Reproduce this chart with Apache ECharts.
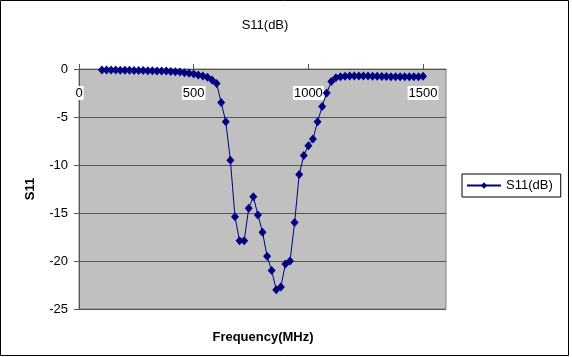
<!DOCTYPE html>
<html>
<head>
<meta charset="utf-8">
<script src="https://cdn.jsdelivr.net/npm/echarts@6/dist/echarts.min.js"></script>
<style>
  html, body { margin: 0; padding: 0; background: #fff; }
  #main { width: 572px; height: 357px; }
</style>
</head>
<body>
<div id="main"></div>
<script>
// frequency points (MHz)
const freqs = [
  100, 120, 140, 160, 180, 200, 220, 240, 260, 280,
  300, 320, 340, 360, 380, 400, 420, 440, 460, 480,
  500, 520, 540, 560, 580, 600, 620, 640, 660, 680,
  700, 720, 740, 760, 780, 800, 820, 840, 860, 880,
  900, 920, 940, 960, 980, 1000, 1020, 1040, 1060, 1080,
  1100, 1120, 1140, 1160, 1180, 1200, 1220, 1240, 1260, 1280,
  1300, 1320, 1340, 1360, 1380, 1400, 1420, 1440, 1460, 1480,
  1500
];
// S11 in dB
const s11 = [
  -0.1, -0.1, -0.1, -0.1, -0.12, -0.12, -0.13, -0.15, -0.15, -0.15,
  -0.17, -0.18, -0.2, -0.2, -0.22, -0.25, -0.28, -0.32, -0.38, -0.45,
  -0.52, -0.62, -0.72, -0.87, -1.15, -1.5, -3.5, -5.5, -9.5, -15.4,
  -17.9, -17.9, -14.5, -13.3, -15.2, -17.0, -19.5, -21.0, -23.0, -22.7,
  -20.3, -20.0, -16.0, -11.0, -9.0, -8.0, -7.3, -5.5, -3.9, -2.5,
  -1.3, -0.9, -0.8, -0.75, -0.72, -0.72, -0.72, -0.72, -0.74, -0.75,
  -0.75, -0.77, -0.78, -0.8, -0.8, -0.82, -0.82, -0.82, -0.8, -0.8,
  -0.75
];
const xTicks = [0, 500, 1000, 1500];

const chart = echarts.init(document.getElementById('main'));

const option = {
  backgroundColor: '#fff',
  animation: false,
  textStyle: { fontFamily: 'Liberation Sans, Arial, sans-serif', color: '#000' },
  title: {
    text: 'S11(dB)',
    left: 260,
    top: 14,
    textAlign: 'center',
    textStyle: { fontSize: 13, fontWeight: 'normal', color: '#000', fontFamily: 'Liberation Sans' }
  },
  legend: {
    data: ['S11(dB)'],
    left: 462,
    top: 174,
    orient: 'vertical',
    borderColor: '#000',
    borderWidth: 1,
    borderRadius: 0,
    padding: [5, 8, 5, 4],
    itemWidth: 34,
    itemHeight: 8,
    itemGap: 4,
    textStyle: { fontSize: 13, color: '#000', fontFamily: 'Liberation Sans' }
  },
  grid: {
    left: 79,
    right: 126,
    top: 69,
    bottom: 48,
    show: true,
    backgroundColor: '#c0c0c0',
    borderColor: '#808080',
    borderWidth: 1
  },
  xAxis: {
    type: 'value',
    position: 'top',
    min: 0,
    max: 1600,
    interval: 500,
    axisLine: { show: true, lineStyle: { color: '#555', width: 1 } },
    axisTick: { show: true, length: 5, lineStyle: { color: '#555' }, customValues: xTicks },
    axisLabel: {
      inside: true,
      margin: 17,
      fontSize: 13,
      color: '#000',
      backgroundColor: '#fff',
      padding: [1, 1, 0, 1],
      customValues: xTicks,
      formatter: (v) => String(v)
    },
    splitLine: { show: false }
  },
  yAxis: {
    type: 'value',
    min: -25,
    max: 0,
    interval: 5,
    name: 'S11',
    nameLocation: 'middle',
    nameGap: 42,
    nameTextStyle: { fontSize: 13, fontWeight: 'bold', color: '#000' },
    axisLine: { show: true, lineStyle: { color: '#555', width: 1 } },
    axisTick: { show: true, length: 5, lineStyle: { color: '#555' } },
    axisLabel: { fontSize: 13, color: '#000', margin: 11 },
    splitLine: { show: true, lineStyle: { color: '#555', width: 1 } }
  },
  graphic: [
    {
      type: 'rect',
      shape: { x: 0.5, y: 0.5, width: 568, height: 355 },
      style: { fill: 'none', stroke: '#000', lineWidth: 1 },
      silent: true
    },
    {
      type: 'text',
      x: 263,
      y: 337,
      style: {
        text: 'Frequency(MHz)',
        font: 'bold 13px "Liberation Sans"',
        fill: '#000',
        textAlign: 'center',
        textVerticalAlign: 'middle'
      }
    }
  ],
  series: [
    {
      name: 'S11(dB)',
      type: 'line',
      data: freqs.map((f, i) => [f, s11[i]]),
      symbol: 'diamond',
      symbolSize: [8, 9],
      showAllSymbol: true,
      itemStyle: { color: '#000080' },
      lineStyle: { color: '#000080', width: 1 }
    }
  ]
};

chart.setOption(option);
</script>
</body>
</html>
